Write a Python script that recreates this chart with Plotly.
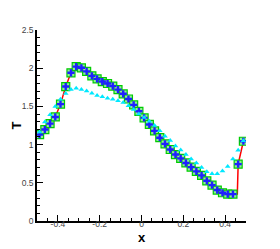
import plotly.graph_objects as go

x_pts = [-0.4875 + 0.025 * i for i in range(40)]
T_scheme = [1.13, 1.197, 1.275, 1.362, 1.53, 1.76, 1.94, 2.02, 2.005, 1.958,
            1.90, 1.86, 1.825, 1.80, 1.765, 1.72, 1.665, 1.597, 1.52, 1.436,
            1.35, 1.264, 1.18, 1.09, 1.01, 0.936, 0.87, 0.82, 0.76, 0.705,
            0.65, 0.597, 0.526, 0.47, 0.405, 0.37, 0.352, 0.352, 0.744, 1.044]
T_low = [1.166, 1.295, 1.39, 1.50, 1.595, 1.668, 1.72, 1.736, 1.72, 1.70,
         1.672, 1.643, 1.625, 1.606, 1.595, 1.575, 1.55, 1.51, 1.46, 1.40,
         1.355, 1.305, 1.25, 1.18, 1.11, 1.053, 0.983, 0.93, 0.87, 0.81,
         0.76, 0.70, 0.644, 0.617, 0.62, 0.653, 0.714, 0.813, 0.925, 1.05]
x_exact = x_pts[:38] + [0.4585] + x_pts[38:]
T_exact = T_scheme[:38] + [0.352] + T_scheme[38:]

x_ticks = [-0.4, -0.2, 0, 0.2, 0.4]
x_ticktext = ["-0.4", "-0.2", "0", "0.2", "0.4"]
y_ticks = [0, 0.5, 1, 1.5, 2, 2.5]
y_ticktext = ["0", "0.5", "1", "1.5", "2", "2.5"]

fig = go.Figure()
fig.add_trace(go.Scatter(x=x_exact, y=T_exact, mode="lines",
                         line=dict(color="#ff0000", width=1.5), showlegend=False))
fig.add_trace(go.Scatter(x=x_pts, y=T_scheme, mode="markers",
                         marker=dict(symbol="square", size=8, color="#90f090",
                                     line=dict(color="#00cc00", width=1.2)),
                         showlegend=False))
fig.add_trace(go.Scatter(x=x_pts, y=T_scheme, mode="markers",
                         marker=dict(symbol="cross", size=6, color="#2020ff",
                                     line=dict(width=0)),
                         showlegend=False))
fig.add_trace(go.Scatter(x=x_pts, y=T_low, mode="markers",
                         marker=dict(symbol="triangle-up", size=5, color="#00e8ff",
                                     line=dict(width=0)),
                         showlegend=False))

fig.update_layout(
    width=280, height=249,
    margin=dict(l=29, r=42, t=22, b=36, autoexpand=False),
    paper_bgcolor="white", plot_bgcolor="white",
    font=dict(family="Liberation Sans, Arial", size=9, color="#444444"),
    annotations=[
        dict(text="<b>x</b>", xref="paper", yref="paper", x=0.5, y=-0.088,
             xanchor="center", yanchor="middle", showarrow=False,
             font=dict(size=13, color="black")),
        dict(text="<b>T</b>", xref="paper", yref="paper", x=-0.1, y=0.5,
             xanchor="center", yanchor="middle", showarrow=False, textangle=-90,
             font=dict(size=13, color="black")),
    ],
)
fig.update_xaxes(
    range=[-0.5, 0.5], showgrid=False, zeroline=False, automargin=False,
    showline=True, linecolor="black", linewidth=1.5,
    tickmode="array", tickvals=x_ticks, ticktext=x_ticktext,
    ticks="inside", ticklen=6, tickwidth=1.2, tickcolor="black",
    ticklabelstandoff=-6,
    minor=dict(ticks="inside", ticklen=3, dtick=0.05, tick0=0, tickcolor="black", showgrid=False),
    tickfont=dict(size=8.5, color="#444444"),
)
fig.update_yaxes(
    range=[0, 2.5], showgrid=False, zeroline=False, automargin=False,
    showline=True, linecolor="black", linewidth=1.5,
    tickmode="array", tickvals=y_ticks, ticktext=y_ticktext,
    ticks="inside", ticklen=6, tickwidth=1.2, tickcolor="black",
    minor=dict(ticks="inside", ticklen=3, dtick=0.1, tick0=0, tickcolor="black", showgrid=False),
    tickfont=dict(size=8.5, color="#444444"),
)

fig.write_html("out.html")
